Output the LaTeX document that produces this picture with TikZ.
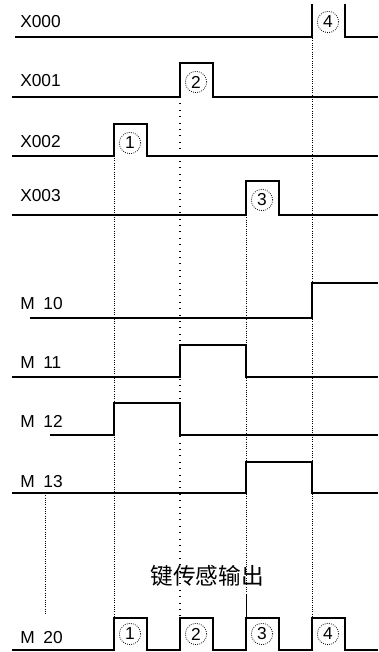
\documentclass[tikz,border=0pt]{standalone}
\usepackage{fontspec}
\setmainfont{Liberation Sans}
\newfontfamily\cjkfont{Noto Sans CJK SC}

\begin{document}
\begin{tikzpicture}[
  x=0.75pt, y=-0.75pt,
  font=\fontsize{13}{15}\selectfont,
  wave/.style={line width=1pt, line join=miter},
  guide/.style={densely dotted, line width=0.7pt},
  sparse/.style={loosely dotted, line width=0.8pt},
  sig/.style={anchor=base west, inner sep=0pt},
  num/.style={circle, draw, densely dotted, line width=0.6pt, inner sep=0pt,
              minimum size=16pt, font=\fontsize{13}{14}\selectfont}
]
\useasboundingbox (0,0) rectangle (378,652);

% guide lines
\draw[guide] (114,124) -- (114,650);
\draw[sparse] (180,97) -- (180,618);
\draw[guide] (246,181) -- (246,650);
\draw[guide] (312,4) -- (312,650);
\draw[guide] (45,493) -- (45,615);
\draw[thin] (246,595) -- (246,618);

% signal names
\node[sig] (x000) at (20,28) {X000};
\node[sig] (x001) at (20,87) {X001};
\node[sig] (x002) at (20,148) {X002};
\node[sig] (x003) at (20,202) {X003};
\node[sig] (m10) at (20,309) {M\enspace 10};
\node[sig] (m11) at (20,368) {M\enspace 11};
\node[sig] (m12) at (20,427) {M\enspace 12};
\node[sig] (m13) at (20,487) {M\enspace 13};
\node[sig] (m20) at (20,643) {M\enspace 20};

% waveforms
\draw[wave] (15,37) -- (312,37) -- (312,4);
\draw[wave] (345,4) -- (345,37) -- (378,37);
\draw[wave] (12,97) -- (180,97) -- (180,63) -- (213,63) -- (213,97) -- (378,97);
\draw[wave] (12,156) -- (114,156) -- (114,124) -- (147,124) -- (147,156) -- (378,156);
\draw[wave] (12,215) -- (246,215) -- (246,181) -- (279,181) -- (279,215) -- (378,215);
\draw[wave] (30,318) -- (312,318) -- (312,283) -- (378,283);
\draw[wave] (12,377) -- (180,377) -- (180,345) -- (246,345) -- (246,377) -- (378,377);
\draw[wave] (50,435) -- (114,435) -- (114,403) -- (180,403) -- (180,435) -- (378,435);
\draw[wave] (12,493) -- (246,493) -- (246,462) -- (312,462) -- (312,493) -- (378,493);
\draw[wave] (12,650) -- (114,650) -- (114,618) -- (147,618) -- (147,650)
  -- (180,650) -- (180,618) -- (213,618) -- (213,650)
  -- (246,650) -- (246,618) -- (279,618) -- (279,650)
  -- (312,650) -- (312,618) -- (345,618) -- (345,650) -- (378,650);

% step numbers
\node[num] (k4) at (328,22) {4};
\node[num] (k2) at (196,82) {2};
\node[num] (k1) at (130,143) {1};
\node[num] (k3) at (262,200) {3};
\node[num] (o1) at (130,634) {1};
\node[num] (o2) at (196,634) {2};
\node[num] (o3) at (262,634) {3};
\node[num] (o4) at (328,634) {4};

\node[font=\cjkfont\fontsize{17}{19}\selectfont] (out) at (207,576) {键传感输出};

\end{tikzpicture}
\end{document}
